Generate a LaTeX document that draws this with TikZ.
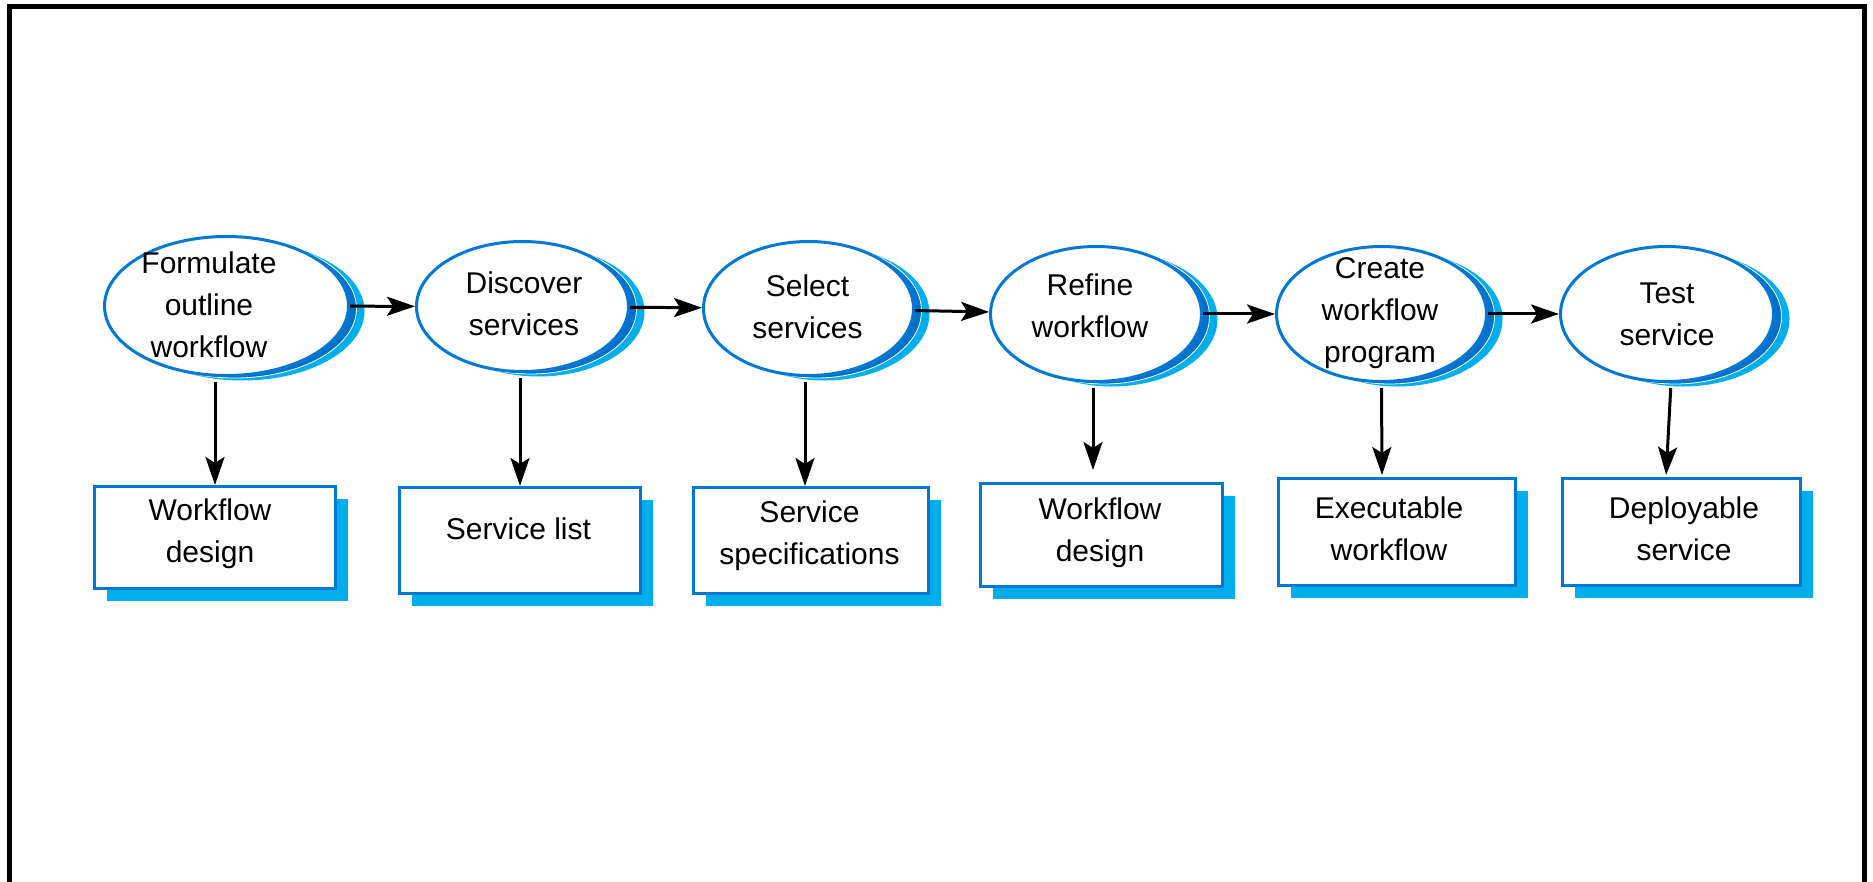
\documentclass[tikz,border=0pt]{standalone}
\usepackage{fontspec}
\setmainfont{Liberation Sans}
\usetikzlibrary{shapes.geometric,arrows.meta,calc}
\definecolor{outl}{RGB}{0,120,212}
\definecolor{shad}{RGB}{0,174,236}
\definecolor{dband}{RGB}{0,112,204}
\newcommand\mkproc[5]{%
  \node[procsh, minimum width=#4pt, minimum height=#5pt] (#1s) at (#2+16,#3+5) {};
  \node[procmid, minimum width=#4pt, minimum height=#5pt] (#1m) at (#2+8,#3+2.5) {};
  \node[proc, minimum width=#4pt, minimum height=#5pt] (#1) at (#2,#3) {};}
\newcommand\mkdoc[5]{%
  \node[docsh, minimum width=#4pt, minimum height=#5pt] (#1s) at (#2+12,#3+12) {};
  \node[doc, minimum width=#4pt, minimum height=#5pt] (#1) at (#2,#3) {};}
\begin{document}
\begin{tikzpicture}[x=1pt,y=-1pt,
  proc/.style={ellipse, draw=outl, line width=3pt, fill=white, inner sep=0pt},
  procsh/.style={ellipse, fill=shad, inner sep=0pt},
  procmid/.style={ellipse, fill=dband, draw=white, line width=0.8pt, inner sep=0pt},
  doc/.style={rectangle, draw=outl, line width=3pt, fill=white, inner sep=0pt},
  docsh/.style={rectangle, fill=shad, inner sep=0pt},
  lbl/.style={font=\fontsize{30pt}{42pt}\selectfont, align=center, inner sep=0pt},
  arr/.style={line width=3pt, -{Stealth[length=28pt,width=19pt,inset=6pt]}},
  frameline/.style={line width=5pt}]
\useasboundingbox (0,0) rectangle (1873,882);
\draw[frameline] (9.5,890) -- (9.5,7) -- (1864.5,7) -- (1864.5,890);

% processes
\mkproc{e1}{226.5}{306}{244}{139}
\mkproc{e2}{522.5}{306.5}{212}{130}
\mkproc{e3}{808.5}{308.5}{210}{134}
\mkproc{e4}{1096}{314}{211}{135}
\mkproc{e5}{1381.5}{314}{210}{135}
\mkproc{e6}{1667}{314}{213}{135}

% documents
\mkdoc{b1}{215}{537.5}{241}{102}
\mkdoc{b2}{520}{540.5}{241}{106}
\mkdoc{b3}{811}{540.5}{235}{106}
\mkdoc{b4}{1101.5}{535}{242}{103}
\mkdoc{b5}{1397}{532}{237}{107}
\mkdoc{b6}{1681.5}{532}{238}{107}

% labels
\node[lbl] (t1) at (209,305) {Formulate\\outline\\workflow};
\node[lbl] (t2) at (524,304) {Discover\\services};
\node[lbl] (t3) at (807.5,306.5) {Select\\services};
\node[lbl] (t4) at (1090,306) {Refine\\workflow};
\node[lbl] (t5) at (1380,313) {Create\\workflow\\program};
\node[lbl] (t6) at (1667,314.5) {Test\\service};
\node[lbl] (u1) at (210,534) {Workflow\\design};
\node[lbl] (u2) at (518.5,528.5) {Service list};
\node[lbl] (u3) at (809.5,535.5) {Service\\specifications};
\node[lbl] (u4) at (1100,533) {Workflow\\design};
\node[lbl] (u5) at (1389,528.5) {Executable\\workflow};
\node[lbl] (u6) at (1684,528.5) {Deployable\\service};

% arrows
\draw[arr] (e1) -- (e2);
\draw[arr] (e2) -- (e3);
\draw[arr] (e3) -- (e4);
\draw[arr] (e4) -- (e5);
\draw[arr] (e5) -- (e6);
\draw[arr, shorten <=5pt] ([xshift=-11.5pt]e1.south) -- (b1.north);
\draw[arr, shorten <=5pt] ([xshift=-2.5pt]e2.south) -- (b2.north);
\draw[arr, shorten <=5pt] ([xshift=-3.5pt]e3.south) -- ([xshift=-6pt]b3.north);
\draw[arr, shorten <=5pt, shorten >=12pt] ([xshift=-3pt]e4.south) -- ([xshift=-8.5pt]b4.north);
\draw[arr, shorten <=5pt, shorten >=2pt] (e5.south) -- ([xshift=-15pt]b5.north);
\draw[arr, shorten <=5pt, shorten >=2pt] ([xshift=4pt]e6.south) -- ([xshift=-15.5pt]b6.north);
\end{tikzpicture}
\end{document}
